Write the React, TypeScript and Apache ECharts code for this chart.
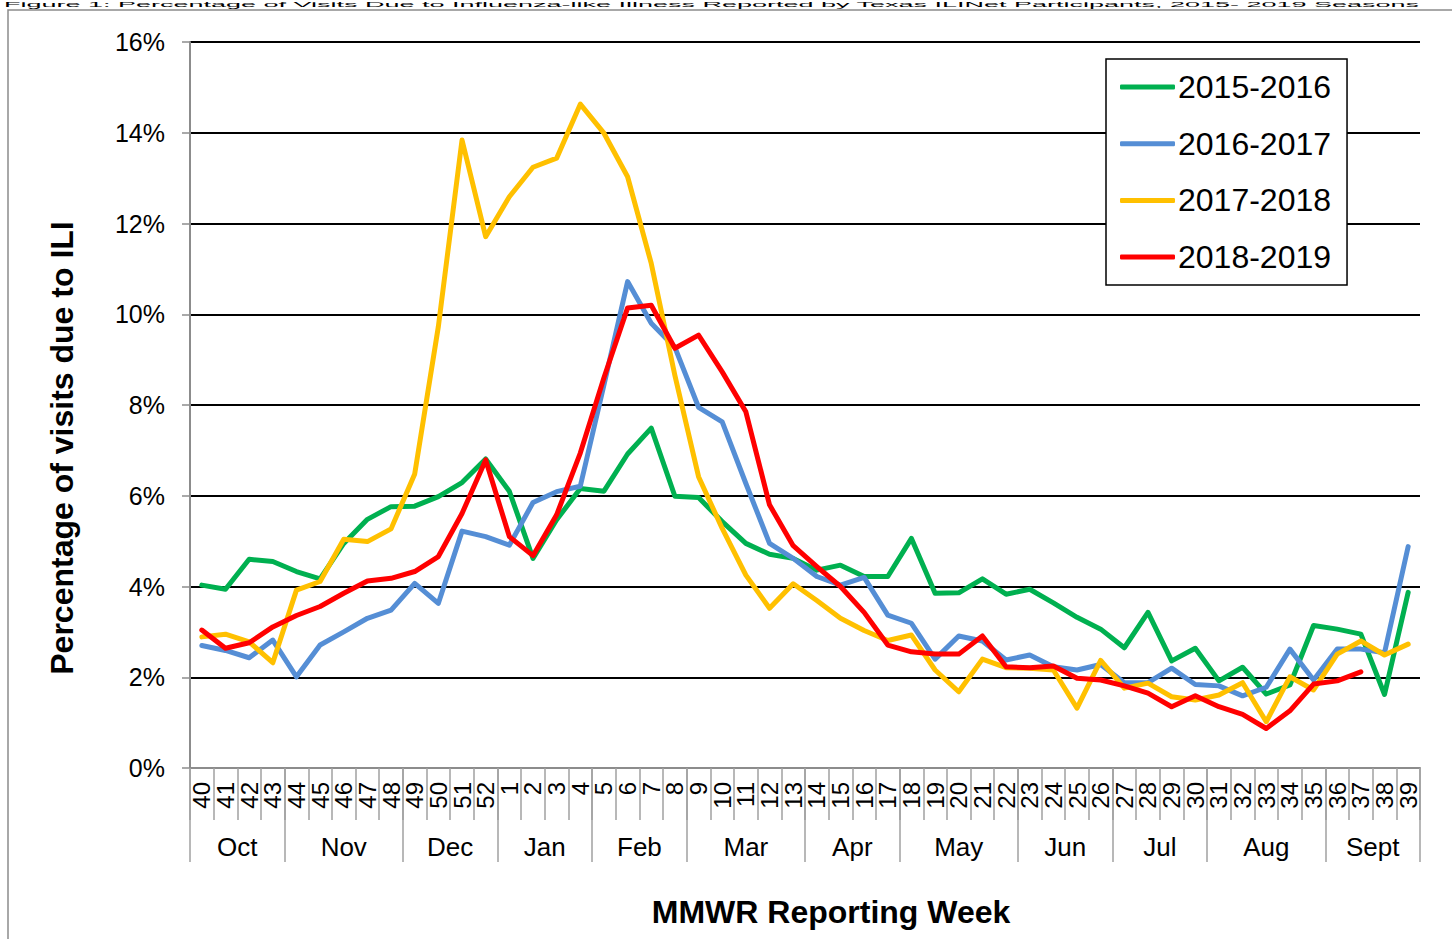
import React, { useEffect, useRef } from "react";
import * as echarts from "echarts";

const weeks: string[] = [
  "40", "41", "42", "43", "44", "45", "46", "47", "48", "49", "50", "51", "52",
  "1", "2", "3", "4", "5", "6", "7", "8", "9", "10", "11", "12", "13",
  "14", "15", "16", "17", "18", "19", "20", "21", "22", "23", "24", "25", "26",
  "27", "28", "29", "30", "31", "32", "33", "34", "35", "36", "37", "38", "39",
];

const months: string[] = ["Oct", "Nov", "Dec", "Jan", "Feb", "Mar", "Apr", "May", "Jun", "Jul", "Aug", "Sept"];
const weeksPerMonth: number[] = [4, 5, 4, 4, 4, 5, 4, 5, 4, 4, 5, 4];

const seasonNames: string[] = ["2015-2016", "2016-2017", "2017-2018", "2018-2019"];
const seasonColors: string[] = ["#00B050", "#558ED5", "#FFC000", "#FF0000"];

const s2015: (number | null)[] = [
  4.03, 3.94, 4.6, 4.55, 4.33, 4.17, 4.95, 5.48, 5.76, 5.77, 5.98, 6.29, 6.81,
  6.1, 4.62, 5.47, 6.16, 6.1, 6.92, 7.49, 5.99, 5.96, 5.43, 4.95, 4.71, 4.62,
  4.36, 4.47, 4.22, 4.22, 5.06, 3.85, 3.86, 4.17, 3.83, 3.94, 3.64, 3.32, 3.06,
  2.65, 3.43, 2.36, 2.64, 1.92, 2.22, 1.63, 1.83, 3.14, 3.06, 2.95, 1.62, 3.87,
];
const s2016: (number | null)[] = [
  2.7, 2.59, 2.43, 2.82, 2.01, 2.71, 3.0, 3.3, 3.48, 4.07, 3.63, 5.22, 5.1,
  4.91, 5.85, 6.09, 6.21, 8.44, 10.72, 9.8, 9.27, 7.95, 7.63, 6.27, 4.95, 4.62,
  4.22, 4.03, 4.2, 3.37, 3.19, 2.4, 2.91, 2.8, 2.38, 2.49, 2.23, 2.16, 2.28,
  1.88, 1.88, 2.2, 1.84, 1.81, 1.59, 1.78, 2.62, 1.94, 2.62, 2.62, 2.54, 4.88,
];
const s2017: (number | null)[] = [
  2.89, 2.95, 2.78, 2.32, 3.92, 4.11, 5.04, 4.99, 5.27, 6.48, 9.73, 13.84, 11.71,
  12.59, 13.24, 13.44, 14.63, 13.99, 13.03, 11.12, 8.65, 6.42, 5.28, 4.25, 3.52, 4.06,
  3.69, 3.3, 3.03, 2.81, 2.93, 2.16, 1.68, 2.4, 2.21, 2.2, 2.16, 1.32, 2.37,
  1.76, 1.87, 1.57, 1.5, 1.61, 1.88, 1.02, 2.01, 1.72, 2.51, 2.8, 2.49, 2.73,
];
const s2018: (number | null)[] = [
  3.04, 2.64, 2.76, 3.11, 3.36, 3.56, 3.85, 4.12, 4.18, 4.33, 4.66, 5.61, 6.79,
  5.1, 4.68, 5.58, 6.94, 8.6, 10.14, 10.2, 9.25, 9.54, 8.73, 7.85, 5.8, 4.9,
  4.44, 4.0, 3.43, 2.71, 2.56, 2.51, 2.51, 2.91, 2.23, 2.21, 2.25, 1.98, 1.94,
  1.81, 1.65, 1.35, 1.59, 1.35, 1.18, 0.87, 1.26, 1.85, 1.92, 2.12, null, null,
];

const seasonData = [s2015, s2016, s2017, s2018];

const FONT = "'Liberation Sans', Arial, Helvetica, sans-serif";

export default function App() {
  const ref = useRef<HTMLDivElement>(null);

  useEffect(() => {
    if (!ref.current) return;
    const chart = echarts.init(ref.current, undefined, { renderer: "svg" });

    const boundaries: number[] = [0];
    const centers: number[] = [];
    let acc = 0;
    weeksPerMonth.forEach((n) => {
      centers.push(acc + n / 2);
      acc += n;
      boundaries.push(acc);
    });

    const option: any = {
      animation: false,
      backgroundColor: "#ffffff",
      textStyle: { fontFamily: FONT },
      title: [
        {
          text: "MMWR Reporting Week",
          left: 831,
          top: 896,
          padding: 0,
          textAlign: "center",
          textStyle: { fontFamily: FONT, fontSize: 32, fontWeight: "bold", color: "#000" },
        },
      ],
      graphic: [
        {
          type: "text",
          x: 4,
          y: 0,
          scaleY: 0.3,
          silent: true,
          style: {
            text: "Figure 1: Percentage of Visits Due to Influenza-like Illness Reported by Texas ILINet Participants, 2015- 2019 Seasons",
            fontFamily: FONT,
            fontSize: 27,
            fill: "#000",
            textVerticalAlign: "top",
            verticalAlign: "top",
          },
        },
        {
          type: "rect",
          shape: { x: 8, y: 10, width: 1470, height: 960 },
          style: { fill: "none", stroke: "#8c8c8c", lineWidth: 1.5 },
          silent: true,
          z: -10,
        },
      ],
      legend: {
        data: seasonNames,
        orient: "vertical",
        left: 1106,
        top: 59,
        padding: [10, 16, 10, 14],
        itemGap: 20.7,
        itemWidth: 55,
        itemHeight: 5,
        icon: "roundRect",
        borderColor: "#000",
        borderWidth: 1.5,
        backgroundColor: "#fff",
        textStyle: { fontFamily: FONT, fontSize: 32, color: "#000", lineHeight: 36, padding: [0, 0, 0, -2] },
      },
      grid: { left: 190, right: 32, top: 42, bottom: 171, containLabel: false },
      xAxis: [
        {
          type: "category",
          data: weeks,
          boundaryGap: true,
          position: "bottom",
          axisLine: { show: true, lineStyle: { color: "#8c8c8c", width: 2 } },
          axisTick: { show: true, interval: 0, length: 52, lineStyle: { color: "#a0a0a0", width: 1.5 } },
          axisLabel: {
            interval: 0,
            rotate: 90,
            margin: 14,
            fontSize: 24,
            color: "#000",
            fontFamily: FONT,
          },
          splitLine: { show: false },
        },
        {
          type: "value",
          min: 0,
          max: 52,
          position: "bottom",
          axisLine: { show: false },
          axisTick: {
            show: true,
            customValues: boundaries,
            length: 94,
            lineStyle: { color: "#a0a0a0", width: 1.5 },
          },
          axisLabel: {
            show: true,
            customValues: centers,
            margin: 66,
            fontSize: 26,
            color: "#000",
            fontFamily: FONT,
            formatter: (v: number) => {
              const idx = centers.findIndex((c) => Math.abs(c - v) < 1e-6);
              return idx >= 0 ? months[idx] : "";
            },
          },
          splitLine: { show: false },
        },
      ],
      yAxis: {
        type: "value",
        min: 0,
        max: 16,
        interval: 2,
        name: "Percentage of visits due to ILI",
        nameLocation: "middle",
        nameGap: 112,
        nameTextStyle: {
          fontFamily: FONT,
          fontSize: 32,
          fontWeight: "bold",
          color: "#000",
          padding: [0, 86, 0, 0],
        },
        axisLine: { show: true, lineStyle: { color: "#8c8c8c", width: 2 } },
        axisTick: { show: true, length: 8, lineStyle: { color: "#8c8c8c", width: 1.5 } },
        axisLabel: {
          formatter: "{value}%",
          margin: 25,
          fontSize: 25,
          color: "#000",
          fontFamily: FONT,
        },
        splitLine: { show: true, lineStyle: { color: "#000", width: 2 } },
      },
      series: seasonNames.map((name, i) => ({
        name,
        type: "line",
        xAxisIndex: 0,
        data: seasonData[i],
        symbol: "none",
        connectNulls: false,
        itemStyle: { color: seasonColors[i] },
        lineStyle: { color: seasonColors[i], width: 5, cap: "round", join: "round" },
        z: 2 + i,
      })),
    };

    chart.setOption(option);
    return () => chart.dispose();
  }, []);

  return (
    <div
      ref={ref}
      style={{ position: "fixed", left: 0, top: 0, width: "1452px", height: "939px", background: "#fff" }}
    />
  );
}
